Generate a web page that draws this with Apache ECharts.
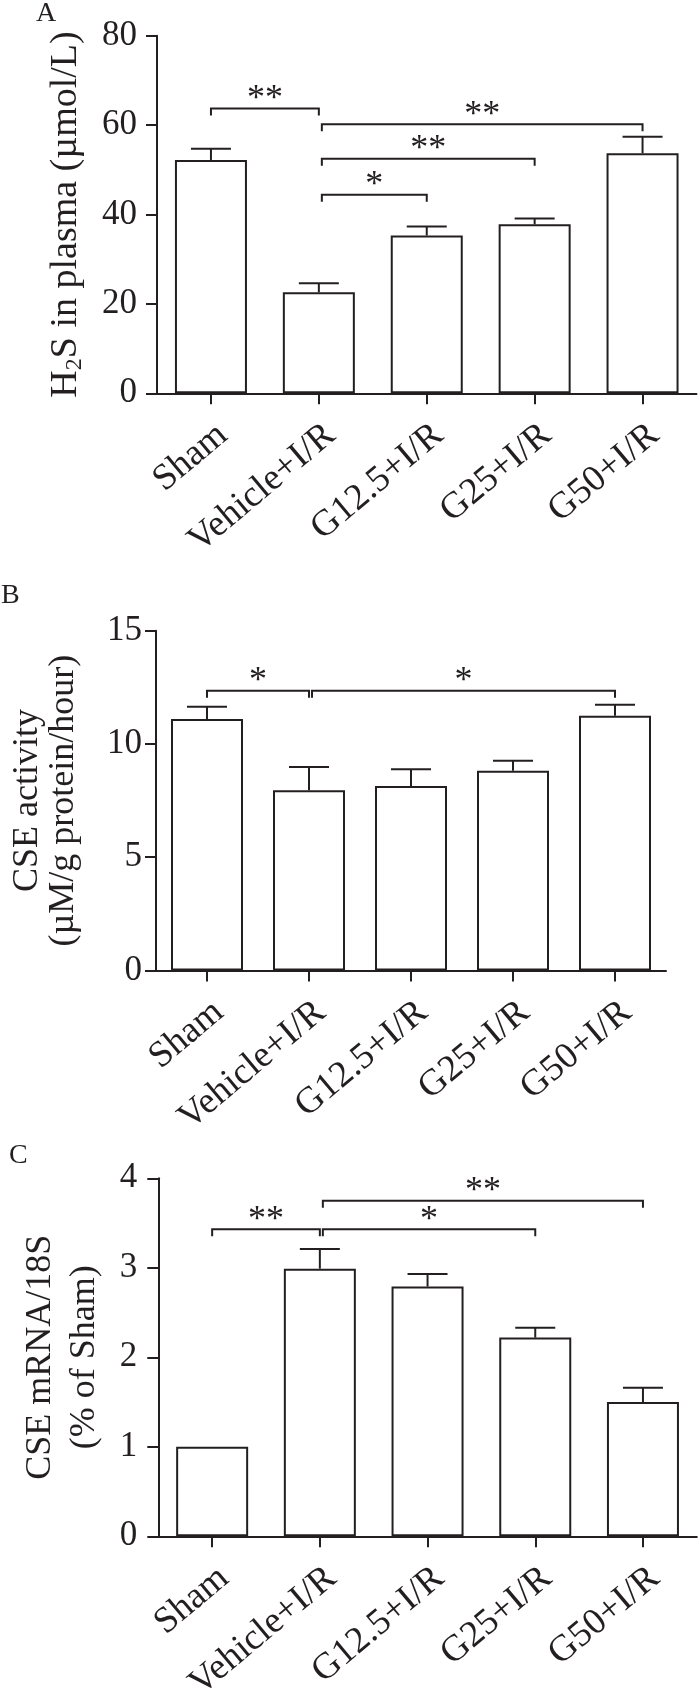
<!DOCTYPE html>
<html><head><meta charset="utf-8">
<script src="https://cdn.jsdelivr.net/npm/echarts@6/dist/echarts.min.js"></script>
<style>html,body{margin:0;padding:0;background:#fff}#c{width:700px;height:1702px}</style>
</head><body><div id="c"></div>
<script>
// ---- data ----
const categories = ['Sham', 'Vehicle+I/R', 'G12.5+I/R', 'G25+I/R', 'G50+I/R'];
// Panel A: H2S in plasma (µmol/L)
const meanA = [52.2, 22.6, 35.3, 37.8, 53.7];
const semA  = [2.5, 2.0, 2.0, 1.3, 3.7];
// Panel B: CSE activity (µM/g protein/hour)
const meanB = [11.1, 7.96, 8.15, 8.82, 11.25];
const semB  = [0.54, 1.02, 0.73, 0.44, 0.48];
// Panel C: CSE mRNA/18S (% of Sham)
const meanC = [1.0, 2.99, 2.79, 2.22, 1.50];
const semC  = [0, 0.22, 0.14, 0.11, 0.16];
// significance brackets: [fromIndex, toIndex, level, label]
const bracketsA = [[0, 1, 63.7, '**'], [1, 4, 60.2, '**'], [1, 3, 52.5, '**'], [1, 2, 44.4, '*']];
const bracketsB = [[0, 1, 12.35, '*'], [1, 4, 12.35, '*']];
const bracketsC = [[0, 1, 3.43, '**'], [1, 3, 3.43, '*'], [1, 4, 3.75, '**']];
// y scales: [min, max, interval]
const scaleA = [0, 80, 20];
const scaleB = [0, 15, 5];
const scaleC = [0, 4, 1];
const panelLetters = ['A', 'B', 'C'];

// ---- style ----
const INK = '#231f20';
const FONT = '"Liberation Serif", "Times New Roman", serif';
const CAP = 20;

const chart = echarts.init(document.getElementById('c'), null, {renderer: 'canvas'});

function errRender(sems) {
  return function (params, api) {
    const i = api.value(0);
    const m = api.value(1);
    const s = sems[params.dataIndex];
    if (!s) return null;
    const p0 = api.coord([i, m]);
    const p1 = api.coord([i, m + s]);
    return {type: 'group', children: [
      {type: 'line', shape: {x1: p0[0], y1: p0[1], x2: p1[0], y2: p1[1]}, style: {stroke: INK, lineWidth: 2}},
      {type: 'line', shape: {x1: p1[0] - CAP, y1: p1[1], x2: p1[0] + CAP, y2: p1[1]}, style: {stroke: INK, lineWidth: 2}}
    ]};
  };
}
function bracketRender(list) {
  return function (params, api) {
    const b = list[params.dataIndex];
    const a = api.coord([b[0], b[2]]);
    const c = api.coord([b[1], b[2]]);
    const x1 = a[0] + (b[0] > 0 ? 3 : 0), x2 = c[0], y = a[1];
    return {type: 'group', children: [
      {type: 'polyline', shape: {points: [[x1, y + 7], [x1, y], [x2, y], [x2, y + 7]]},
        style: {stroke: INK, lineWidth: 2, fill: 'none'}},
      {type: 'text', style: {text: b[3], x: (x1 + x2) / 2, y: y - 9, align: 'center', verticalAlign: 'middle',
        fontSize: 36, fontFamily: FONT, fill: INK}}
    ]};
  };
}

const grids = [
  {left: 157, top: 35.7, width: 539.5, height: 357.6},
  {left: 156, top: 630.7, width: 510, height: 339.8},
  {left: 158.3, top: 1178.3, width: 538.5, height: 358}
];
const scales = [scaleA, scaleB, scaleC];
const means = [meanA, meanB, meanC];
const sems = [semA, semB, semC];
const brackets = [bracketsA, bracketsB, bracketsC];
const labelMargins = [20, 14, 21];
const names = [
  '{n|H}{s|2}{n|S in plasma (µmol/L)}',
  'CSE activity\n(µM/g protein/hour)',
  'CSE mRNA/18S\n(% of Sham)'
];
const nameGaps = [70, 74, 52];
const nameLH = [42, 36, 44];
const nameSize = [38, 36, 36];

const xAxes = [], yAxes = [], series = [];
for (let k = 0; k < 3; k++) {
  xAxes.push({
    type: 'category', gridIndex: k, data: categories,
    axisLine: {show: true, lineStyle: {color: INK, width: 2}},
    axisTick: {show: true, alignWithLabel: true, length: 11, lineStyle: {color: INK, width: 2}},
    axisLabel: {interval: 0, rotate: 40, align: 'right', verticalAlign: 'top', margin: 23,
      fontFamily: FONT, fontSize: 37, color: INK},
    splitLine: {show: false}
  });
  yAxes.push({
    type: 'value', gridIndex: k, min: scales[k][0], max: scales[k][1], interval: scales[k][2],
    axisLine: {show: true, lineStyle: {color: INK, width: 2}},
    axisTick: {show: true, length: 11, lineStyle: {color: INK, width: 2}},
    axisLabel: {margin: labelMargins[k], fontFamily: FONT, fontSize: 35, color: INK},
    splitLine: {show: false},
    name: names[k], nameLocation: 'middle', nameGap: nameGaps[k], nameRotate: 90,
    nameTextStyle: {fontFamily: FONT, fontSize: nameSize[k], color: INK, lineHeight: nameLH[k], align: 'center',
      rich: {
        n: {fontFamily: FONT, fontSize: nameSize[k], color: INK},
        s: {fontFamily: FONT, fontSize: 24, color: INK, verticalAlign: 'bottom'}
      }}
  });
  series.push({
    type: 'bar', xAxisIndex: k, yAxisIndex: k, data: means[k], barWidth: 72,
    itemStyle: {color: '#fff', borderColor: INK, borderWidth: 2}, silent: true
  });
  series.push({
    type: 'custom', xAxisIndex: k, yAxisIndex: k, renderItem: errRender(sems[k]),
    data: means[k].map((m, i) => [i, m]), z: 3, silent: true
  });
  series.push({
    type: 'custom', xAxisIndex: k, yAxisIndex: k, renderItem: bracketRender(brackets[k]),
    data: brackets[k].map(b => [b[0], b[2]]), z: 4, silent: true, clip: false
  });
}

chart.setOption({
  animation: false,
  backgroundColor: '#fff',
  title: [
    {text: panelLetters[0], left: 36, top: 0, padding: 0, textStyle: {fontFamily: FONT, fontSize: 28, fontWeight: 'normal', color: INK}},
    {text: panelLetters[1], left: 1, top: 582, padding: 0, textStyle: {fontFamily: FONT, fontSize: 28, fontWeight: 'normal', color: INK}},
    {text: panelLetters[2], left: 9, top: 1142, padding: 0, textStyle: {fontFamily: FONT, fontSize: 28, fontWeight: 'normal', color: INK}}
  ],
  grid: grids.map(g => Object.assign({containLabel: false, outerBoundsMode: 'none'}, g)),
  xAxis: xAxes,
  yAxis: yAxes,
  series: series
});
</script>
</body></html>
